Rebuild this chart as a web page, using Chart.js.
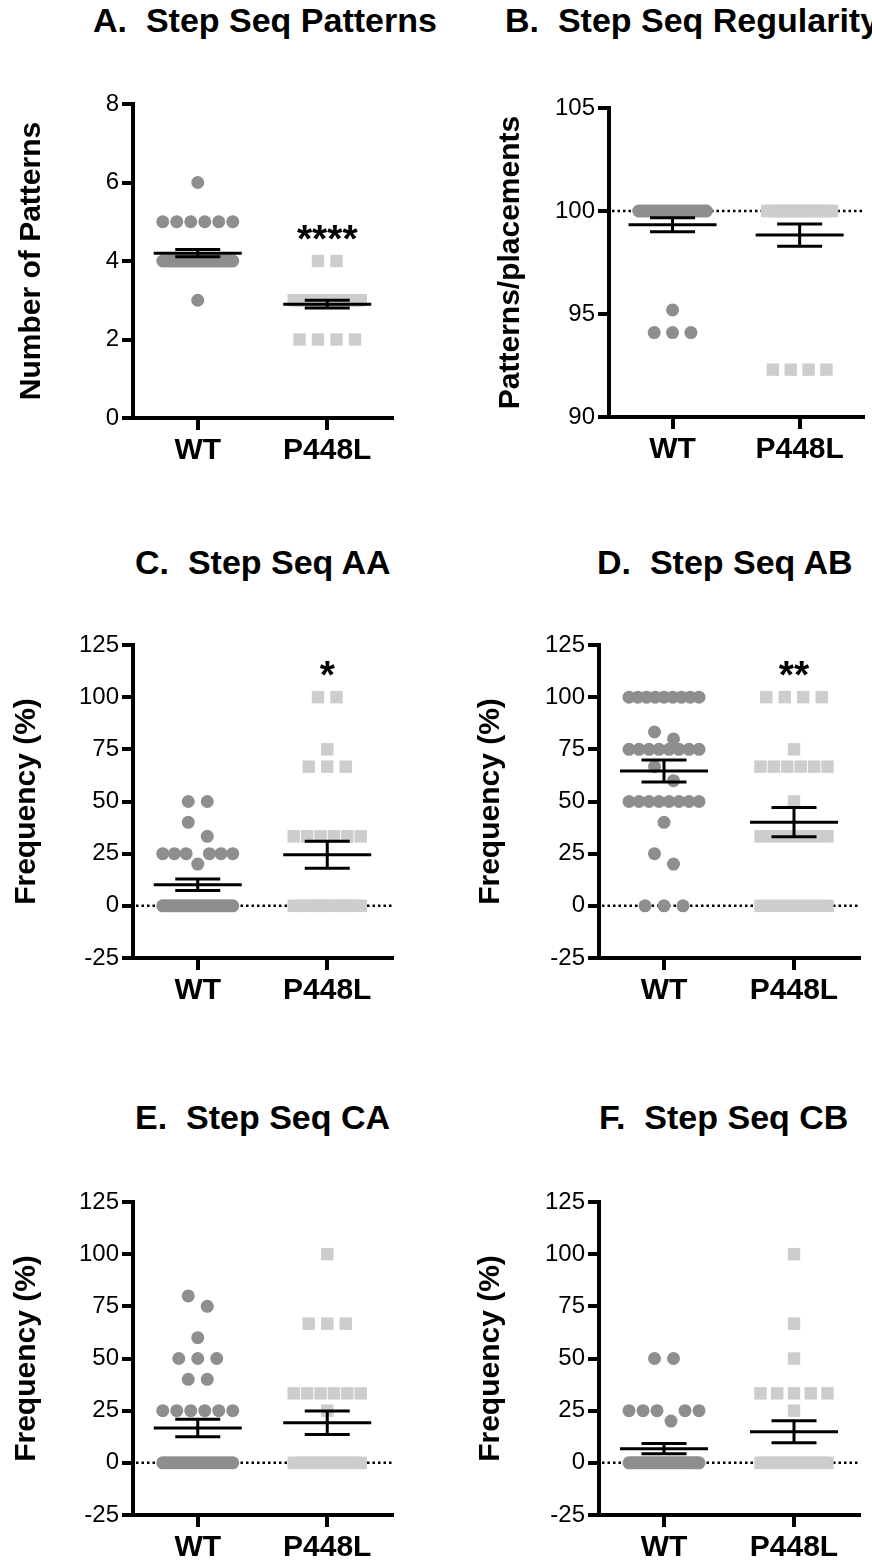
<!DOCTYPE html>
<html><head><meta charset="utf-8">
<script src="https://cdn.jsdelivr.net/npm/chart.js@4.4.1/dist/chart.umd.min.js"></script>
<style>
html,body{margin:0;padding:0;background:#fff;}
body{width:872px;height:1562px;position:relative;overflow:hidden;font-family:"Liberation Sans",Arial,sans-serif;}
canvas{position:absolute;}
.ttl{position:absolute;font-weight:bold;font-size:34px;line-height:34px;white-space:pre;color:#000;}
</style></head><body>
<div class="ttl" style="left:93px;top:3px">A.  Step Seq Patterns</div>
<div class="ttl" style="left:505px;top:3px">B.  Step Seq Regularity</div>
<div class="ttl" style="left:135px;top:545px">C.  Step Seq AA</div>
<div class="ttl" style="left:597px;top:545px">D.  Step Seq AB</div>
<div class="ttl" style="left:135px;top:1100px">E.  Step Seq CA</div>
<div class="ttl" style="left:599px;top:1100px">F.  Step Seq CB</div>
<script>
// ---------- data ----------
const groups = ['WT', 'P448L'];

// A. Number of patterns
const aWtValues = [6, 5, 4, 3];
const aWtCounts = [1, 6, 27, 1];
const aMutValues = [4, 3, 2];
const aMutCounts = [2, 22, 4];
const aMean = [4.2, 2.9];
const aSem = [0.09, 0.1];

// B. Patterns/placements
const bWtValues = [100, 95.2, 94.1];
const bWtCounts = [30, 1, 3];
const bMutValues = [100, 92.3];
const bMutCounts = [22, 4];
const bMean = [99.33, 98.83];
const bSem = [0.34, 0.54];

// C. Frequency AA
const cWtValues = [50, 40, 33.3, 25, 20, 0];
const cWtCounts = [2, 1, 1, 6, 1, 23];
const cMutValues = [100, 75, 66.7, 33.3, 0];
const cMutCounts = [2, 1, 3, 6, 15];
const cMean = [10.1, 24.5];
const cSem = [2.8, 6.5];

// D. Frequency AB
const dWtValues = [100, 83.3, 80, 75, 66.7, 60, 50, 40, 25, 20, 0];
const dWtCounts = [9, 1, 1, 8, 1, 1, 8, 1, 1, 1, 3];
const dMutValues = [100, 75, 66.7, 50, 33.3, 0];
const dMutCounts = [4, 1, 6, 1, 8, 10];
const dMean = [64.6, 40.1];
const dSem = [5.3, 7.0];

// E. Frequency CA
const eWtValues = [80, 75, 60, 50, 40, 25, 0];
const eWtCounts = [1, 1, 1, 3, 2, 6, 21];
const eMutValues = [100, 66.7, 33.3, 25, 0];
const eMutCounts = [1, 3, 6, 1, 16];
const eMean = [16.7, 19.2];
const eSem = [4.2, 5.6];

// F. Frequency CB
const fWtValues = [50, 25, 20, 0];
const fWtCounts = [2, 5, 1, 27];
const fMutValues = [100, 66.7, 50, 33.3, 25, 0];
const fMutCounts = [1, 1, 1, 5, 1, 18];
const fMean = [6.8, 14.9];
const fSem = [2.5, 5.3];

const yTitles = ['Number of Patterns', 'Patterns/placements', 'Frequency (%)', 'Frequency (%)', 'Frequency (%)', 'Frequency (%)'];
const yMins = [0, 90, -25, -25, -25, -25];
const yMaxs = [8, 105, 125, 125, 125, 125];
const ySteps = [2, 5, 25, 25, 25, 25];
const refLines = [null, 100, 0, 0, 0, 0];
const sigLabels = ['****', '', '*', '**', '', ''];

// ---------- layout (pixels) ----------
const FONT = '"Liberation Sans", Arial, sans-serif';
const WT_COLOR = '#8e8e8e';
const MUT_COLOR = '#cdcdcd';
// canvas: left, top, width, height ; area: left, top, right, bottom ; titleX offset
const layouts = [
  {c: [0, 60, 436, 420],    a: [133, 104, 392, 418],   tx: 32},
  {c: [436, 60, 436, 420],  a: [609, 108, 872, 417],   tx: 75},
  {c: [0, 600, 436, 420],   a: [133, 645, 392, 958],   tx: 27},
  {c: [436, 600, 436, 420], a: [599, 645, 859, 958],   tx: 55},
  {c: [0, 1160, 436, 402],  a: [133, 1202, 392, 1515], tx: 27},
  {c: [436, 1160, 436, 402],a: [599, 1202, 859, 1515], tx: 55}
];

const panelData = [
  [aWtValues, aWtCounts, aMutValues, aMutCounts, aMean, aSem],
  [bWtValues, bWtCounts, bMutValues, bMutCounts, bMean, bSem],
  [cWtValues, cWtCounts, cMutValues, cMutCounts, cMean, cSem],
  [dWtValues, dWtCounts, dMutValues, dMutCounts, dMean, dSem],
  [eWtValues, eWtCounts, eMutValues, eMutCounts, eMean, eSem],
  [fWtValues, fWtCounts, fMutValues, fMutCounts, fMean, fSem]
];

// Beeswarm layout: points whose values are close (within binPx) share a row,
// spread symmetrically; crowded rows are squeezed into maxSpan.
function swarm(values, counts, pyu, spacing, maxSpan, binPx) {
  const pts = [];
  values.forEach((v, i) => { for (let k = 0; k < counts[i]; k++) pts.push({v: v, n: counts[i]}); });
  pts.sort((p, q) => q.v - p.v);
  const out = [];
  let i = 0;
  while (i < pts.length) {
    const top = pts[i].v;
    const bin = [];
    while (i < pts.length && (top - pts[i].v) * pyu < binPx) { bin.push(pts[i]); i++; }
    const k = bin.length;
    const s = k > 1 ? Math.min(spacing, maxSpan / (k - 1)) : 0;
    const slots = [];
    for (let j = 0; j < k; j++) slots.push((j - (k - 1) / 2) * s);
    slots.sort((p, q) => (Math.abs(p) - Math.abs(q)) || (q - p));
    bin.sort((p, q) => (p.n - q.n) || (p.v - q.v));
    bin.forEach((p, j) => out.push({dx: slots[j], v: p.v}));
  }
  return out;
}

const decoPlugin = {
  id: 'deco',
  beforeDatasetsDraw(chart, args, o) {
    if (o.ref === null || o.ref === undefined) return;
    const ctx = chart.ctx, a = chart.chartArea, y = chart.scales.y;
    const py = y.getPixelForValue(o.ref);
    ctx.save();
    ctx.strokeStyle = '#000'; ctx.lineWidth = 2.5; ctx.setLineDash([2.5, 3]);
    ctx.beginPath(); ctx.moveTo(a.left + 3, py); ctx.lineTo(a.right, py); ctx.stroke();
    ctx.restore();
  },
  afterDatasetsDraw(chart, args, o) {
    const ctx = chart.ctx, x = chart.scales.x, y = chart.scales.y;
    ctx.save();
    ctx.strokeStyle = '#000'; ctx.lineWidth = 3;
    o.mean.forEach((m, i) => {
      const cx = x.getPixelForValue(i);
      const pm = y.getPixelForValue(m);
      const ph = y.getPixelForValue(m + o.sem[i]);
      const pl = y.getPixelForValue(m - o.sem[i]);
      ctx.beginPath();
      ctx.moveTo(cx - 44, pm); ctx.lineTo(cx + 44, pm);
      ctx.moveTo(cx - 22.5, ph); ctx.lineTo(cx + 22.5, ph);
      ctx.moveTo(cx - 22.5, pl); ctx.lineTo(cx + 22.5, pl);
      ctx.moveTo(cx, ph); ctx.lineTo(cx, pl);
      ctx.stroke();
    });
    if (o.sig) {
      const topVal = Math.max.apply(null, o.sigOver);
      ctx.fillStyle = '#000';
      ctx.font = 'bold 39px ' + FONT;
      ctx.textAlign = 'center'; ctx.textBaseline = 'alphabetic';
      ctx.fillText(o.sig, x.getPixelForValue(1), y.getPixelForValue(topVal) - 31 + 22);
    }
    ctx.restore();
  }
};

Chart.defaults.font.family = FONT;

layouts.forEach((L, idx) => {
  const [wtV, wtC, muV, muC, mean, sem] = panelData[idx];
  const [cl, ct, cw, ch] = L.c;
  const [al, at, ar, ab] = L.a;
  const cv = document.createElement('canvas');
  cv.width = cw; cv.height = ch;
  cv.style.left = cl + 'px'; cv.style.top = ct + 'px';
  cv.style.width = cw + 'px'; cv.style.height = ch + 'px';
  document.body.appendChild(cv);

  const pxX = (ar - al) / 2;
  const pyu = (ab - at) / (yMaxs[idx] - yMins[idx]);
  const wtPts = swarm(wtV, wtC, pyu, 19, 70, 15).map(o => ({x: 0 + o.dx / pxX, y: o.v}));
  const muPts = swarm(muV, muC, pyu, 18.5, 67, 15).map(o => ({x: 1 + o.dx / pxX, y: o.v}));

  new Chart(cv, {
    type: 'scatter',
    data: {
      datasets: [
        {label: groups[0], data: wtPts, pointStyle: 'circle', pointRadius: 6.5,
         backgroundColor: WT_COLOR, pointBackgroundColor: WT_COLOR, pointBorderWidth: 0, borderWidth: 0, clip: false},
        {label: groups[1], data: muPts, pointStyle: 'rect', pointRadius: 8.8,
         backgroundColor: MUT_COLOR, pointBackgroundColor: MUT_COLOR, pointBorderWidth: 0, borderWidth: 0, clip: false}
      ]
    },
    options: {
      responsive: false, devicePixelRatio: 1, animation: false, events: [],
      layout: {padding: {top: at - ct, right: cl + cw - ar, left: 0, bottom: 0}},
      plugins: {
        legend: {display: false}, tooltip: {enabled: false},
        deco: {ref: refLines[idx], mean: mean, sem: sem, sig: sigLabels[idx], sigOver: muV}
      },
      scales: {
        x: {
          type: 'linear', min: -0.5, max: 1.5,
          afterBuildTicks: s => { s.ticks = [{value: 0}, {value: 1}]; },
          afterFit: s => { s.height = ct + ch - ab; },
          ticks: {callback: v => groups[Math.round(v)], autoSkip: false, maxRotation: 0,
                  color: '#000', padding: 3, font: {size: 30, weight: 'bold', lineHeight: 1.2}},
          grid: {display: true, drawOnChartArea: false, drawTicks: true, tickLength: 12,
                 tickWidth: 4, tickColor: '#000', color: '#000', lineWidth: 4},
          border: {display: true, width: 4, color: '#000'}
        },
        y: {
          type: 'linear', min: yMins[idx], max: yMaxs[idx],
          afterFit: s => { s.width = al - cl; },
          ticks: {stepSize: ySteps[idx], color: '#000', padding: 3, font: {size: 24}},
          grid: {display: true, drawOnChartArea: false, drawTicks: true, tickLength: 11,
                 tickWidth: 4, tickColor: '#000', color: '#000', lineWidth: 4},
          border: {display: true, width: 4, color: '#000'},
          title: {display: true, text: yTitles[idx], color: '#000',
                  font: {size: 30, weight: 'bold', lineHeight: 1},
                  padding: {top: L.tx - 15, bottom: 0}}
        }
      }
    },
    plugins: [decoPlugin]
  });
});
</script>
</body></html>
